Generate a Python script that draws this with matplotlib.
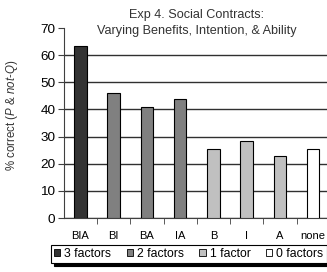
import matplotlib.pyplot as plt
from matplotlib.patches import Patch

plt.rcParams["font.family"] = ["Liberation Sans", "DejaVu Sans"]
plt.rcParams["mathtext.fontset"] = "custom"
plt.rcParams["mathtext.it"] = "Liberation Sans:italic"
plt.rcParams["mathtext.rm"] = "Liberation Sans"

categories = ["BIA", "BI", "BA", "IA", "B", "I", "A", "none"]
values = [63.5, 46.0, 41.0, 43.8, 25.5, 28.3, 23.0, 25.5]
factor_counts = [3, 2, 2, 2, 1, 1, 1, 0]
group_labels = ["3 factors", "2 factors", "1 factor", "0 factors"]
group_colors = {3: "#333333", 2: "#808080", 1: "#c0c0c0", 0: "#ffffff"}

fig = plt.figure(figsize=(3.27, 2.72), dpi=100)
# axes run slightly past the right edge, as in the original
ax = fig.add_axes([0.195, 0.1985, 0.8135, 0.6985])

x = list(range(len(categories)))
colors = [group_colors[n] for n in factor_counts]
ax.bar(x, values, width=0.38, color=colors, edgecolor="black", linewidth=0.8, zorder=3)

ax.set_xlim(-0.5, len(categories) - 0.5)
ax.set_ylim(0, 70)
ax.set_yticks(range(0, 71, 10))
ax.yaxis.grid(True, color="#303030", linewidth=1.0, zorder=0)
ax.set_axisbelow(True)
ax.get_ygridlines()[-1].set_visible(False)

ax.set_xticks(x)
ax.set_xticklabels(categories, fontsize=8)
ax.set_xticks([i + 0.5 for i in x[:-1]], minor=True)
ax.tick_params(axis="x", which="major", length=0, pad=9)
ax.tick_params(axis="x", which="minor", length=4, direction="out", color="#404040")
ax.tick_params(axis="y", labelsize=9.7, length=4, direction="out", color="#404040", pad=2)

for side in ["top", "right"]:
    ax.spines[side].set_visible(False)
ax.spines["left"].set_color("#404040")
ax.spines["bottom"].set_color("#404040")

ax.set_ylabel("% correct ($\\mathit{P}$ & $\\mathit{not}$-$\\mathit{Q}$)", fontsize=8.3, color="#333333")
ax.yaxis.set_label_coords(-0.164, 0.542)
fig.text(0.601, 0.914, "Exp 4. Social Contracts:\nVarying Benefits, Intention, & Ability",
         fontsize=9.1, color="#333333", ha="center", va="center", linespacing=1.45)

handles = [Patch(facecolor=group_colors[n], edgecolor="black", linewidth=0.6) for n in [3, 2, 1, 0]]
leg = fig.legend(handles, group_labels, loc="upper left", bbox_to_anchor=(0.156, 0.099), ncol=4,
                 fontsize=8.8, frameon=True, fancybox=False, shadow={"color": "black", "alpha": 1},
                 handlelength=0.5, handleheight=0.5, handletextpad=0.35, columnspacing=1.25,
                 borderpad=0.25, borderaxespad=0, edgecolor="black")
leg.get_frame().set_linewidth(0.8)

fig.savefig("out.png", dpi=100)
